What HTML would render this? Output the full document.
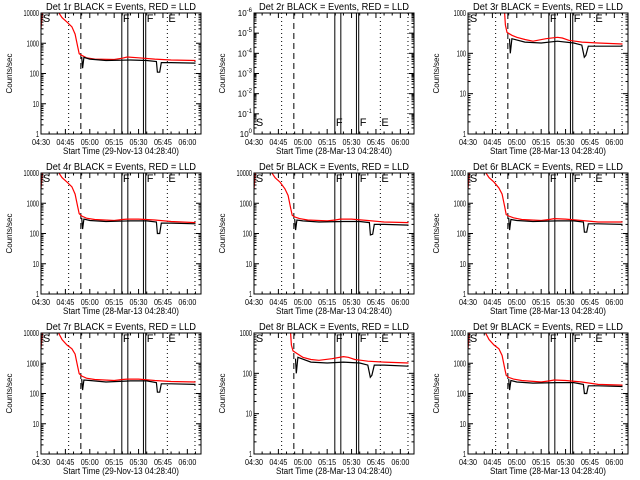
<!DOCTYPE html>
<html><head><meta charset="utf-8"><style>
html,body{margin:0;padding:0;background:#fff;}
svg{display:block;font-family:"Liberation Sans",sans-serif;}
</style></head><body>
<svg id="chart" width="640" height="480" xmlns="http://www.w3.org/2000/svg">
<rect width="640" height="480" fill="#fff"/>
</svg>
<script>
// ---- data ----
const xTickLabels = ["04:30","04:45","05:00","05:15","05:30","05:45","06:00"];
const xTickMinutes = [0,15,30,45,60,75,90];
const vDotted = [17, 77.7, 94.7];
const vDashed = [24.5];
const vSolid = [49.7, 53.4, 63, 64.4];
const panelTitles = ["Det 1r BLACK = Events, RED = LLD","Det 2r BLACK = Events, RED = LLD","Det 3r BLACK = Events, RED = LLD",
"Det 4r BLACK = Events, RED = LLD","Det 5r BLACK = Events, RED = LLD","Det 6r BLACK = Events, RED = LLD",
"Det 7r BLACK = Events, RED = LLD","Det 8r BLACK = Events, RED = LLD","Det 9r BLACK = Events, RED = LLD"];
const panelDecades = [4,6,3,4,4,4,4,3,4];
const panelXLabels = ["Start Time (29-Nov-13 04:28:40)","Start Time (28-Mar-13 04:28:40)","Start Time (28-Mar-13 04:28:40)",
"Start Time (28-Mar-13 04:28:40)","Start Time (28-Mar-13 04:28:40)","Start Time (28-Mar-13 04:28:40)",
"Start Time (29-Nov-13 04:28:40)","Start Time (28-Mar-13 04:28:40)","Start Time (28-Mar-13 04:28:40)"];
const redTimesA = [0,1,10,13,16,19,21,22.5,23.5,25,28,33,45,50,53,60,70,80,95];
const redValsA  = [3000,12000,12000,7000,5000,3500,2000,800,450,400,330,300,290,320,350,330,300,280,270];
const blkTimesA = [25,25.6,26.4,30,40,55,65,71,71.6,73,74,80,95];
const blkValsA  = [350,150,340,300,270,280,270,250,110,110,230,230,220];
const redVals4 = [3000,12000,12000,7000,5000,3500,2000,800,450,380,320,290,270,290,300,300,280,250,230];
const blkVals4 = [330,140,300,270,250,260,260,240,100,100,220,220,210];
const redVals5 = [3000,12000,12000,7000,5000,3000,1800,700,400,350,310,280,260,280,300,300,270,240,230];
const blkVals5 = [300,130,280,260,240,250,250,230,90,95,200,200,190];
const redVals6 = [3000,12000,12000,7000,5000,3200,2000,800,420,380,330,290,270,290,310,300,270,240,240];
const blkVals6 = [330,130,290,270,250,260,260,240,110,110,210,210,200];
const redVals7 = [3000,12000,12000,6000,4000,3000,2000,800,450,380,320,290,270,290,300,300,270,250,240];
const blkVals7 = [300,130,280,270,240,260,260,230,110,110,210,210,200];
const redVals9 = [3000,12000,12000,6000,4000,3000,1800,700,400,340,300,270,240,260,280,270,240,200,190];
const blkVals9 = [300,130,270,240,220,230,230,200,100,100,180,180,170];
const redTimesB = [0,22,23,24,27,30,35,40,48,55,58,62,66,70,80,95];
const redValsB3 = [2000,2000,500,330,280,250,220,200,230,250,240,210,200,190,180,170];
const redValsB8 = [2000,2000,500,360,300,250,220,210,230,260,250,220,210,200,190,180];
const blkTimesB = [25.5,26,27,35,45,55,65,70,71.5,72.5,74,80,95];
const blkValsB3 = [230,100,230,190,180,200,180,160,80,90,150,150,150];
const blkValsB8 = [230,100,250,190,180,190,180,160,80,90,160,160,150];
const panelRed = [redValsA,null,redValsB3,redVals4,redVals5,redVals6,redVals7,redValsB8,redVals9];
const panelBlk = [blkValsA,null,blkValsB3,blkVals4,blkVals5,blkVals6,blkVals7,blkValsB8,blkVals9];
const panelRedT = [redTimesA,null,redTimesB,redTimesA,redTimesA,redTimesA,redTimesA,redTimesB,redTimesA];
const panelBlkT = [blkTimesA,null,blkTimesB,blkTimesA,blkTimesA,blkTimesA,blkTimesA,blkTimesB,blkTimesA];

const NS="http://www.w3.org/2000/svg";
const svg=document.getElementById('chart');
function mk(tag,attrs,parent){const e=document.createElementNS(NS,tag);for(const k in attrs)e.setAttribute(k,attrs[k]);(parent||svg).appendChild(e);return e;}
const colX=[0,213,427], rowY=[0,160,320];
const BL=41,BR=201,BT=13,BB=134, TMAX=98.4;

for(let p=0;p<9;p++){
  const ox=colX[p%3], oy=rowY[Math.floor(p/3)];
  const g=mk('g',{transform:`translate(${ox},${oy})`});
  
  
  const dec=panelDecades[p];
  const xs=t=>BL+(t/TMAX)*(BR-BL);
  const ys=v=>BB-(Math.log10(v)/dec)*(BB-BT);
  const ti=mk('text',{x:46,y:10,'font-size':10,textLength:150,lengthAdjust:'spacingAndGlyphs',fill:'#000'},g);
  ti.textContent=panelTitles[p];
  
  
  const cid='c'+p;
  const cp=mk('clipPath',{id:cid},g); mk('rect',{x:BL,y:BT,width:BR-BL,height:BB-BT},cp);
  const inner=mk('g',{'clip-path':`url(#${cid})`},g);
  vDotted.forEach(t=>{const l=mk('line',{x1:xs(t),x2:xs(t),y1:BT,y2:BB,stroke:'#000','stroke-dasharray':'1,3'},inner);
    });
  vDashed.forEach(t=>{const l=mk('line',{x1:xs(t),x2:xs(t),y1:BT,y2:BB,stroke:'#000','stroke-dasharray':'6,4'},inner);
    });
  vSolid.forEach(t=>{const l=mk('line',{x1:xs(t),x2:xs(t),y1:BT,y2:BB,stroke:'#000'},inner);
    });
  if(panelRed[p]){
    const rp=panelRedT[p].map((t,i)=>xs(t).toFixed(1)+','+ys(panelRed[p][i]).toFixed(1)).join(' ');
    const r=mk('polyline',{points:rp,fill:'none',stroke:'#f00','stroke-width':1.2},inner);
    
    const bp=panelBlkT[p].map((t,i)=>xs(t).toFixed(1)+','+ys(panelBlk[p][i]).toFixed(1)).join(' ');
    const b=mk('polyline',{points:bp,fill:'none',stroke:'#000','stroke-width':1.2},inner);
    
  }
  const lblY = p===1 ? 126 : 22;
  [["S",0.5],["F",49.7],["F",64.4],["E",77.7]].forEach(([s,t])=>{
    const tx=mk('text',{x:xs(t)+1,y:lblY,'font-size':11,fill:'#000'},g);tx.textContent=s;
    });
  const bx=mk('rect',{x:BL,y:BT,width:BR-BL,height:BB-BT,fill:'none',stroke:'#000'},g);
  
  for(let m=0;m<=TMAX;m+=5){const x=xs(m);const L=(m%15===0)?5:2.5;
    mk('line',{x1:x,x2:x,y1:BB,y2:BB-L,stroke:'#000'},g);mk('line',{x1:x,x2:x,y1:BT,y2:BT+L,stroke:'#000'},g);}
  xTickMinutes.forEach((m,i)=>{const t=mk('text',{x:xs(m)-9,y:BB+11,'font-size':8,textLength:18,lengthAdjust:'spacingAndGlyphs',fill:'#000'},g);
    t.textContent=xTickLabels[i];});
  const xl=mk('text',{x:63,y:BB+20,'font-size':9,textLength:116,lengthAdjust:'spacingAndGlyphs',fill:'#000'},g);xl.textContent=panelXLabels[p];
  
  for(let d=0;d<=dec;d++){const y=ys(Math.pow(10,d));
    mk('line',{x1:BL,x2:BL+5,y1:y,y2:y,stroke:'#000'},g);mk('line',{x1:BR,x2:BR-5,y1:y,y2:y,stroke:'#000'},g);
    if(d<dec)for(let k=2;k<10;k++){const yy=ys(k*Math.pow(10,d));
      mk('line',{x1:BL,x2:BL+2.5,y1:yy,y2:yy,stroke:'#000'},g);mk('line',{x1:BR,x2:BR-2.5,y1:yy,y2:yy,stroke:'#000'},g);}
    const t=mk('text',{x:BL-2,y:y+3,'text-anchor':'end','font-size':8,fill:'#000'},g);
    if(p===1){t.textContent='10';const s=mk('tspan',{dy:-4,'font-size':6},t);s.textContent=d===0?'0':'-'+d;}
    else {const s=String(Math.pow(10,d));t.textContent=s;t.setAttribute('textLength',s.length*3.1);t.setAttribute('lengthAdjust','spacingAndGlyphs');}
    }
  const yl=mk('text',{x:0,y:0,transform:`translate(12,${(BT+BB)/2}) rotate(-90)`,'text-anchor':'middle','font-size':8,fill:'#000'},g);
  yl.textContent='Counts/sec';
}
</script>
</body></html>
